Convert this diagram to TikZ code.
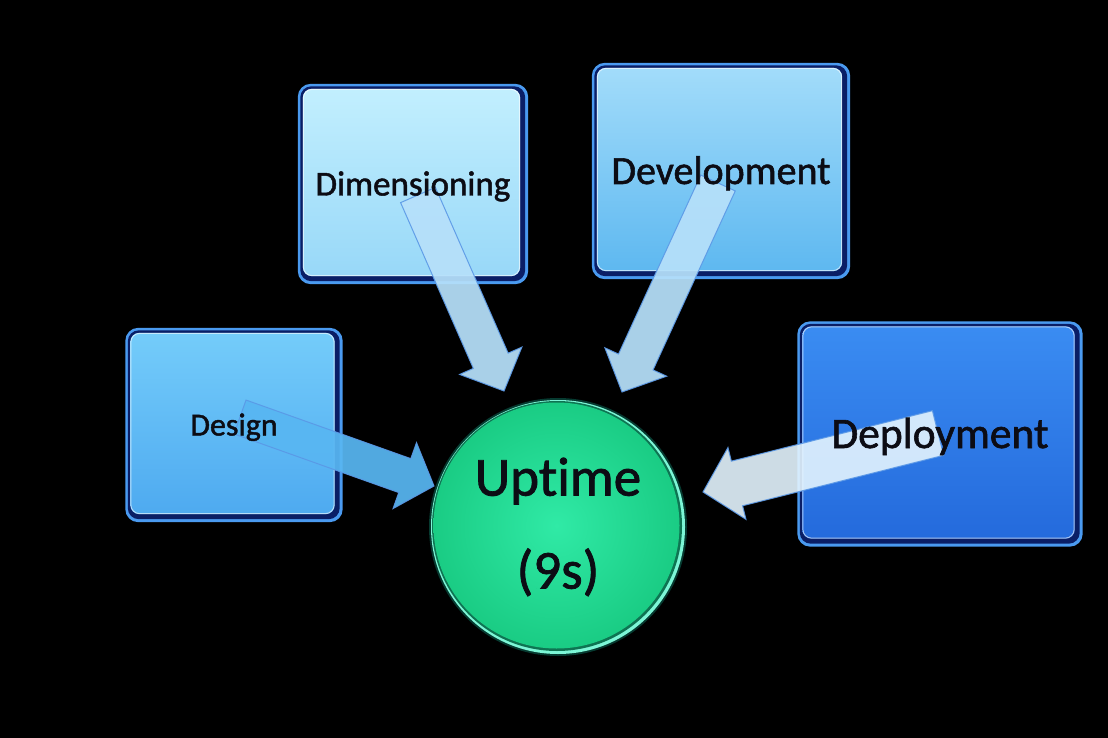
\documentclass[tikz,border=0pt]{standalone}
\usepackage{fontspec}
\setmainfont{Carlito}[Ligatures=NoCommon, FakeBold=1.4]
\usetikzlibrary{calc}

\pgfdeclarelayer{canvas}
\pgfdeclarelayer{frames}
\pgfdeclarelayer{links}
\pgfsetlayers{canvas,frames,links,main}

\definecolor{rimblue}{HTML}{4A9AF0}
\definecolor{navyedge}{HTML}{0A1E66}
\definecolor{dimtop}{HTML}{C2EFFE}
\definecolor{dimbot}{HTML}{98D8F8}
\definecolor{devtop}{HTML}{A2DCFA}
\definecolor{devbot}{HTML}{5EB8F0}
\definecolor{destop}{HTML}{74CCFA}
\definecolor{desbot}{HTML}{4EAAF0}
\definecolor{deptop}{HTML}{3A8CF2}
\definecolor{depbot}{HTML}{246ADC}
\definecolor{inktext}{HTML}{0C0C14}
\definecolor{arrowlight}{HTML}{B6E0FA}
\definecolor{arrowwhite}{HTML}{E4F4FE}
\definecolor{arrowdes}{HTML}{58B6F2}
\definecolor{arrowedge}{HTML}{5A98E6}
\definecolor{ballout}{HTML}{063A30}
\definecolor{ballrim}{HTML}{7CF6D6}
\definecolor{ballin}{HTML}{30EAA6}
\definecolor{balldark}{HTML}{1ACC84}

\tikzset{
  labelbox/.style={rectangle, inner sep=0pt, text=inktext, text depth=0pt},
  hub/.style={circle, inner sep=0pt, minimum size=256pt, text=inktext,
    align=center, font=\fontsize{55}{93}\selectfont},
  flow/.style={fill=#1, fill opacity=0.93, draw=arrowedge, draw opacity=0.9,
    line width=1pt, line join=miter}
}

% framed glossy box behind a named node: #1 node, #2 top colour, #3 bottom colour
\newcommand\tileframe[3]{%
  \fill[rimblue, rounded corners=13pt] (#1.north west) rectangle (#1.south east);
  \fill[navyedge, rounded corners=11pt]
    ([shift={(2.5pt,-2.5pt)}]#1.north west) rectangle ([shift={(-3pt,3pt)}]#1.south east);
  \shade[top color=#2, bottom color=#3, rounded corners=9pt]
    ([shift={(5pt,-5pt)}]#1.north west) rectangle ([shift={(-8pt,8pt)}]#1.south east);
  \draw[white, draw opacity=0.6, line width=1pt, rounded corners=9pt]
    ([shift={(5.5pt,-5.5pt)}]#1.north west) rectangle ([shift={(-8.5pt,8.5pt)}]#1.south east);
}

% block arrow: #1 style, #2 start, #3 tip, #4 shaft half width, #5 head half width, #6 head length
\newcommand\blockarrow[6]{%
  \path[#1] let \p1=($(#3)-(#2)$), \n1={atan2(\y1,\x1)}, \n2={veclen(\x1,\y1)} in
    ($(#2)+({\n1+90}:#4)$)
    -- ($(#2)+(\n1:{\n2-#6})+({\n1+90}:#4)$)
    -- ($(#2)+(\n1:{\n2-#6})+({\n1+90}:#5)$)
    -- (#3)
    -- ($(#2)+(\n1:{\n2-#6})+({\n1-90}:#5)$)
    -- ($(#2)+(\n1:{\n2-#6})+({\n1-90}:#4)$)
    -- ($(#2)+({\n1-90}:#4)$) -- cycle;
}

\begin{document}
\begin{tikzpicture}[x=1pt, y=-1pt]

\begin{pgfonlayer}{canvas}
  \fill[black] (0,0) rectangle (1108,738);
\end{pgfonlayer}

% labelled boxes and the hub
\node[labelbox, minimum width=230pt, minimum height=200pt, text height=23pt,
      font=\fontsize{35}{40}\selectfont] (dim) at (413,184) {Dimensioning};
\node[labelbox, minimum width=258pt, minimum height=216pt, text height=26pt,
      font=\fontsize{40}{46}\selectfont] (dev) at (721,171) {Development};
\node[labelbox, minimum width=217pt, minimum height=194pt, text height=21pt,
      font=\fontsize{32}{38}\selectfont] (des) at (234,425) {Design};
\node[labelbox, minimum width=285pt, minimum height=225pt, text height=28pt,
      font=\fontsize{43.5}{50}\selectfont] (dep) at (940,434) {Deployment};
\node[hub] (up) at (558,527) {\raisebox{-5pt}{Uptime}\\\raisebox{-5pt}{(9s)}};

% arrow end points
\coordinate (dimS) at (418,195);
\coordinate (dimT) at (504,391);
\coordinate (devS) at (718,183);
\coordinate (devT) at (622,392);
\coordinate (desS) at (240,417);
\coordinate (desT) at (434,486);
\coordinate (depS) at (938,433);
\coordinate (depT) at (703,492);

\begin{pgfonlayer}{frames}
  \tileframe{dim}{dimtop}{dimbot}
  \tileframe{dev}{devtop}{devbot}
  \tileframe{des}{destop}{desbot}
  \tileframe{dep}{deptop}{depbot}
  % hub disc
  \fill[ballout] (up.center) circle (129pt);
  \fill[ballrim] (up.center) circle (127pt);
  \fill[ballout!60!balldark] ([shift={(-1pt,1pt)}]up.center) circle (125pt);
  \shade[inner color=ballin, outer color=balldark]
    ([shift={(-1.5pt,1.5pt)}]up.center) circle (123pt);
\end{pgfonlayer}

\begin{pgfonlayer}{links}
  \blockarrow{flow=arrowlight}{dimS}{dimT}{19pt}{34pt}{33pt}
  \blockarrow{flow=arrowlight}{devS}{devT}{19pt}{34pt}{33pt}
  \blockarrow{flow=arrowdes}{desS}{desT}{18pt}{35pt}{31pt}
  \blockarrow{flow={arrowwhite}, fill opacity=0.9}{depS}{depT}{23pt}{37pt}{35pt}
\end{pgfonlayer}

\end{tikzpicture}
\end{document}
